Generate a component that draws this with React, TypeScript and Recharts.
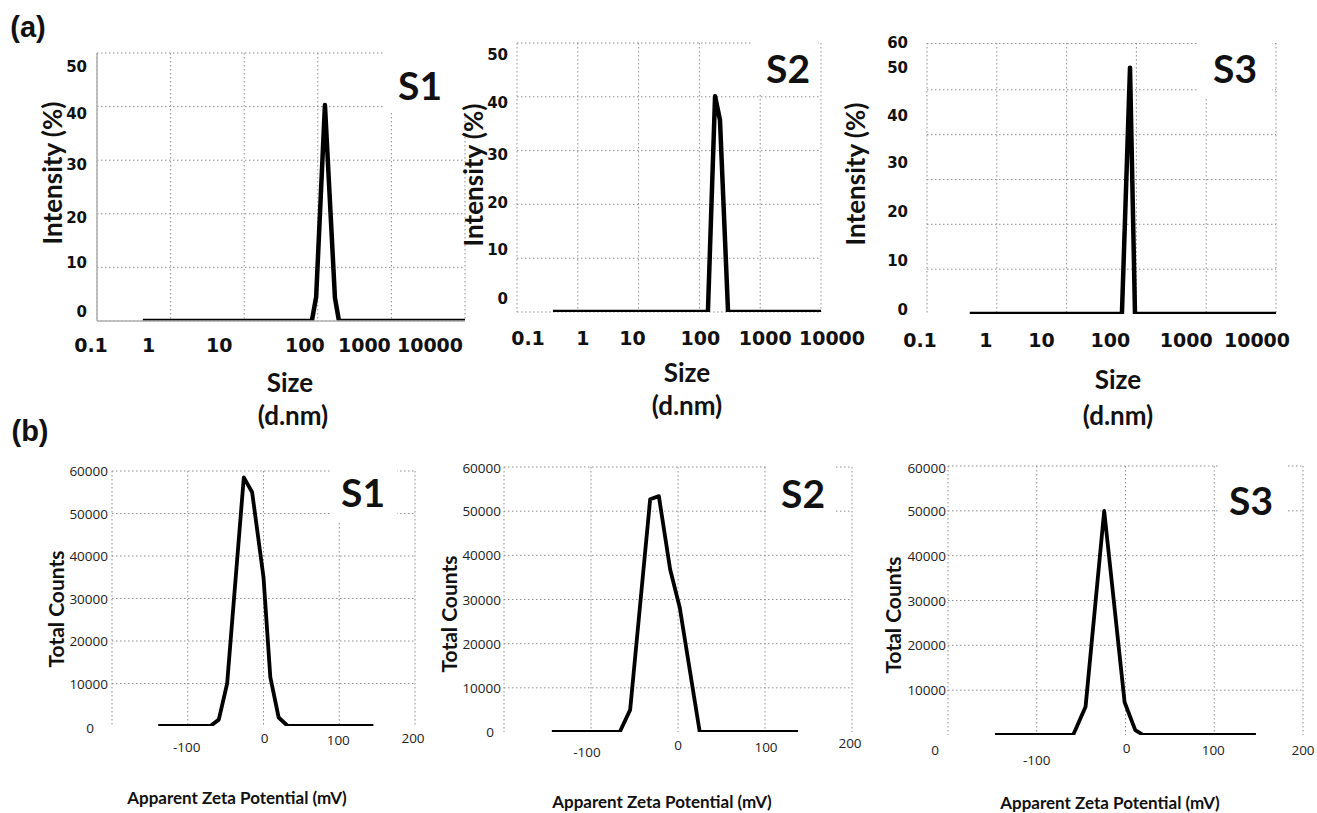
import { LineChart, Line, XAxis, YAxis, CartesianGrid } from "recharts"

// (a) particle size distribution, intensity (%) vs size (d.nm)
const sizeTicks = [0.1, 1, 10, 100, 1000, 10000]
const sizeTickLabels = ["0.1", "1", "10", "100", "1000", "10000"]
const intensityTicks = [0, 10, 20, 30, 40, 50]
const intensityTickLabels = ["0", "10", "20", "30", "40", "50"]
const intensityTicksS3 = [0, 10, 20, 30, 40, 50, 55]
const intensityTickLabelsS3 = ["0", "10", "20", "30", "40", "50", "60"]
const intensityGridS3 = [9.1, 18.2, 27.3, 36.4, 45.5, 54.9]

const sizeS1 = [0.42, 83, 95, 125, 171, 194, 10000]
const intensityS1 = [0, 0, 4.5, 40.3, 4.3, 0, 0]
const sizeS2 = [0.39, 138, 181, 218, 296, 10000]
const intensityS2 = [0, 0, 40.1, 35.7, 0, 0]
const sizeS3 = [0.41, 62, 81, 95.5, 10000]
const intensityS3 = [0, 0, 50, 0, 0]

// (b) zeta potential, total counts vs apparent zeta potential (mV)
const zetaTicks = [-100, 0, 100, 200]
const zetaTickLabels = ["-100", "0", "100", "200"]
const countTicks = [0, 10000, 20000, 30000, 40000, 50000, 60000]
const countTickLabels = ["0", "10000", "20000", "30000", "40000", "50000", "60000"]
const countGrid = [10000, 20000, 30000, 40000, 50000, 60000]

const zetaS1 = [-139, -70, -59, -48, -26, -15, 0, 9, 20, 32, 145]
const countsS1 = [0, 0, 1500, 10000, 58500, 55000, 35000, 11500, 2000, 0, 0]
const zetaS2 = [-145, -67, -55, -32, -22, -9, 2, 25, 138]
const countsS2 = [0, 0, 5000, 52700, 53400, 36800, 28200, 0, 0]
const zetaS3 = [-147, -59, -45, -24, -1, 11, 20, 147]
const countsS3 = [0, 0, 6300, 50000, 7300, 1100, 0, 0]

const PAD = { l: 70, t: 20, r: 60, b: 50 }
const GRID = "#8f8f8f"

type TickCfg = {
  values: number[]
  labels: string[]
  dx: number[]
  dy: number[]
  anchor: "start" | "middle" | "end"
  font: string
  size: number
  weight: number
  color: string
}

const makeTick = (cfg: TickCfg) => (props: any) => {
  const { x, y, payload } = props
  const i = cfg.values.indexOf(payload.value)
  if (i < 0) return <g />
  return (
    <text
      x={x + cfg.dx[i]}
      y={y + cfg.dy[i]}
      textAnchor={cfg.anchor}
      dominantBaseline="central"
      fontFamily={cfg.font}
      fontSize={cfg.size}
      fontWeight={cfg.weight}
      fill={cfg.color}
    >
      {cfg.labels[i]}
    </text>
  )
}

type PanelProps = {
  box: number[]
  xs: number[]
  ys: number[]
  xLog: boolean
  xDomain: number[]
  yDomain: number[]
  xTick: TickCfg
  yTick: TickCfg
  gridY?: number[]
  axisLine: boolean
  lineWidth: number
}

const Panel = ({ box, xs, ys, xLog, xDomain, yDomain, xTick, yTick, gridY, axisLine, lineWidth }: PanelProps) => {
  const [x0, y0, x1, y1] = box
  const width = x1 - x0 + PAD.l + PAD.r
  const height = y1 - y0 + PAD.t + PAD.b
  const data = xs.map((x, i) => ({ x, y: ys[i] }))
  return (
    <div style={{ position: "absolute", left: x0 - PAD.l, top: y0 - PAD.t, width, height }}>
      <LineChart width={width} height={height} data={data} margin={{ top: PAD.t, right: PAD.r, bottom: 0, left: 0 }}>
        <CartesianGrid
          stroke={GRID}
          strokeDasharray="1.5 2.5"
          horizontalValues={gridY}
        />
        <XAxis
          dataKey="x"
          type="number"
          scale={xLog ? "log" : "linear"}
          domain={xDomain}
          ticks={xTick.values}
          interval={0}
          height={PAD.b}
          tickSize={0}
          tickMargin={0}
          tickLine={false}
          axisLine={axisLine ? { stroke: "#b0b0b0", strokeWidth: 1.5 } : false}
          tick={makeTick(xTick)}
          allowDataOverflow
        />
        <YAxis
          type="number"
          domain={yDomain}
          ticks={yTick.values}
          interval={0}
          width={PAD.l}
          tickSize={0}
          tickMargin={0}
          tickLine={false}
          axisLine={axisLine ? { stroke: "#b0b0b0", strokeWidth: 1.5 } : false}
          tick={makeTick(yTick)}
          allowDataOverflow
        />
        <Line
          type="linear"
          dataKey="y"
          stroke="#000"
          strokeWidth={lineWidth}
          strokeLinejoin="round"
          dot={false}
          isAnimationActive={false}
        />
      </LineChart>
    </div>
  )
}

const sizeXTick = (dx: number[], dy: number): TickCfg => ({
  values: sizeTicks,
  labels: sizeTickLabels,
  dx,
  dy: sizeTicks.map(() => dy),
  anchor: "middle",
  font: "'DejaVu Sans', sans-serif",
  size: 19,
  weight: 700,
  color: "#111",
})

const intensityYTick = (values: number[], labels: string[], dx: number, dy: number[]): TickCfg => ({
  values,
  labels,
  dx: values.map(() => dx),
  dy,
  anchor: "end",
  font: "'DejaVu Sans', sans-serif",
  size: 15,
  weight: 700,
  color: "#111",
})

const zetaXTick = (dx: number[], dy: number[]): TickCfg => ({
  values: zetaTicks,
  labels: zetaTickLabels,
  dx,
  dy,
  anchor: "middle",
  font: "'Open Sans', sans-serif",
  size: 13.5,
  weight: 400,
  color: "#222",
})

const countYTick = (dx: number[], dy: number[]): TickCfg => ({
  values: countTicks,
  labels: countTickLabels,
  dx,
  dy,
  anchor: "end",
  font: "'Open Sans', sans-serif",
  size: 13.5,
  weight: 400,
  color: "#222",
})

const Label = ({ x, y, text, size, font = "Lato, sans-serif", rotate = false, weight = 700 }: any) => (
  <div
    style={{
      position: "absolute",
      left: x,
      top: y,
      transform: `translate(-50%, -50%)${rotate ? " rotate(-90deg)" : ""}`,
      fontFamily: font,
      fontSize: size,
      fontWeight: weight,
      lineHeight: 1,
      whiteSpace: "nowrap",
      color: "#111",
    }}
  >
    {text}
  </div>
)

const Tag = ({ box, cx, cy, text }: any) => (
  <>
    <div
      style={{
        position: "absolute",
        left: box[0],
        top: box[1],
        width: box[2] - box[0],
        height: box[3] - box[1],
        background: "#fff",
      }}
    />
    <Label x={cx} y={cy} text={text} size={39} />
  </>
)

const App = () => {
  return (
    <div style={{ position: "absolute", left: 0, top: 0, width: 1317, height: 813, background: "#fff", overflow: "hidden" }}>
      {/* (a) size distribution */}
      <Panel
        box={[97, 53, 465, 321]}
        xs={sizeS1}
        ys={intensityS1}
        xLog
        xDomain={[0.1, 10000]}
        yDomain={[0, 50]}
        xTick={sizeXTick([-6, -22, -25, -13, -27, -35], 24)}
        yTick={intensityYTick(intensityTicks, intensityTickLabels, -10, [-9, -4, 4, 5, 7, 14])}
        axisLine
        lineWidth={4.5}
      />
      <Panel
        box={[517, 43, 821, 312]}
        xs={sizeS2}
        ys={intensityS2}
        xLog
        xDomain={[0.1, 10000]}
        yDomain={[0, 50]}
        xTick={sizeXTick([11, 5, -6, 1, 5, 11], 26)}
        yTick={intensityYTick(intensityTicks, intensityTickLabels, -9, [-13, -8, -1, 4, 6, 12])}
        axisLine={false}
        lineWidth={4.5}
      />
      <Panel
        box={[927, 43, 1276, 314]}
        xs={sizeS3}
        ys={intensityS3}
        xLog
        xDomain={[0.1, 10000]}
        yDomain={[0, 55]}
        xTick={sizeXTick([-7, -11, -25, -26, -20, -19], 26)}
        yTick={intensityYTick(intensityTicksS3, intensityTickLabelsS3, -19, [-4, -4, -3, -3, -1, 0, 0])}
        gridY={intensityGridS3}
        axisLine={false}
        lineWidth={4.5}
      />

      {/* (b) zeta potential */}
      <Panel
        box={[112, 471, 415, 726]}
        xs={zetaS1}
        ys={countsS1}
        xLog={false}
        xDomain={[-200, 200]}
        yDomain={[0, 60000]}
        xTick={zetaXTick([-1, 1, -1, -2], [21, 12, 14, 12])}
        yTick={countYTick([-18, -4, -4, -4, -4, -4, -4], [2, 0, 0, 0, 0, 0, 0])}
        gridY={countGrid}
        axisLine={false}
        lineWidth={3.8}
      />
      <Panel
        box={[504, 467, 852, 732]}
        xs={zetaS2}
        ys={countsS2}
        xLog={false}
        xDomain={[-200, 200]}
        yDomain={[0, 60000]}
        xTick={zetaXTick([-4, 0, 1, -2], [20, 13, 15, 11])}
        yTick={countYTick([-10, -3, -3, -3, -3, -3, -3], [0, 0, 0, 0, 0, 0, 1])}
        gridY={countGrid}
        axisLine={false}
        lineWidth={3.8}
      />
      <Panel
        box={[948, 466, 1303, 735]}
        xs={zetaS3}
        ys={countsS3}
        xLog={false}
        xDomain={[-200, 200]}
        yDomain={[0, 60000]}
        xTick={zetaXTick([0, 1, -1, 0], [25, 13, 15, 15])}
        yTick={countYTick([-9, -2, -2, -2, -2, -2, -2], [15, 0, 0, 0, 0, 0, 2])}
        gridY={countGrid}
        axisLine={false}
        lineWidth={3.8}
      />

      {/* sample tags */}
      <Tag box={[385, 38, 470, 112]} cx={420} cy={85} text="S1" />
      <Tag box={[752, 38, 818, 95]} cx={788} cy={68} text="S2" />
      <Tag box={[1198, 38, 1272, 97]} cx={1235} cy={68} text="S3" />
      <Tag box={[330, 462, 397, 522]} cx={363} cy={492} text="S1" />
      <Tag box={[768, 460, 836, 520]} cx={803} cy={493} text="S2" />
      <Tag box={[1219, 460, 1287, 522]} cx={1251} cy={500} text="S3" />

      {/* panel letters */}
      <Label x={28} y={27} text="(a)" size={29} font="'Liberation Sans', Arial, sans-serif" />
      <Label x={30} y={431} text="(b)" size={29} font="'Liberation Sans', Arial, sans-serif" />

      {/* (a) axis titles */}
      <Label x={52} y={173} text="Intensity (%)" size={26} rotate />
      <Label x={473} y={175} text="Intensity (%)" size={26} rotate />
      <Label x={855} y={174} text="Intensity (%)" size={26} rotate />
      <Label x={290} y={382} text="Size" size={26} />
      <Label x={293} y={415} text="(d.nm)" size={26} />
      <Label x={687} y={372} text="Size" size={26} />
      <Label x={687} y={405} text="(d.nm)" size={26} />
      <Label x={1118} y={379} text="Size" size={26} />
      <Label x={1118} y={415} text="(d.nm)" size={26} />

      {/* (b) axis titles */}
      <Label x={55} y={609} text="Total Counts" size={21} rotate />
      <Label x={448} y={614} text="Total Counts" size={21} rotate />
      <Label x={892} y={615} text="Total Counts" size={21} rotate />
      <Label x={237} y={797} text="Apparent Zeta Potential (mV)" size={17} />
      <Label x={662} y={801} text="Apparent Zeta Potential (mV)" size={17} />
      <Label x={1110} y={802} text="Apparent Zeta Potential (mV)" size={17} />
    </div>
  )
}

export default App
